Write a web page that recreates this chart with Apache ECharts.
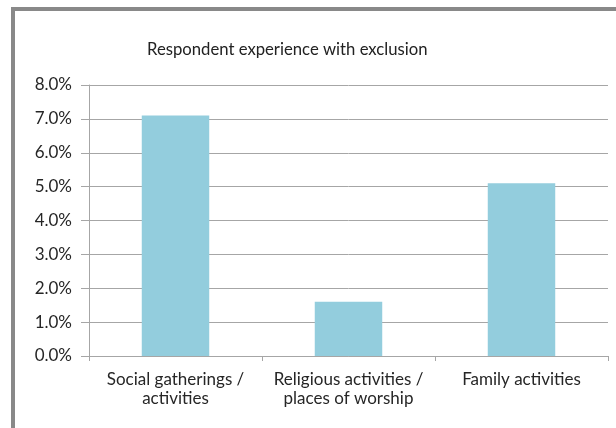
<!DOCTYPE html>
<html><head><meta charset="utf-8">
<script src="https://cdn.jsdelivr.net/npm/echarts@6/dist/echarts.min.js"></script>
<style>
html,body{margin:0;padding:0;background:#fff;}
#frame{position:absolute;left:11px;top:7px;width:605px;height:421px;border-left:4px solid #898989;border-top:4px solid #898989;box-sizing:border-box;}
#c{position:absolute;left:0;top:0;width:616px;height:428px;}
</style></head>
<body>
<div id="frame"></div>
<div id="c"></div>
<script>
const categories = ["Social gatherings /\nactivities", "Religious activities /\nplaces of worship", "Family activities"];
const values = [7.1, 1.6, 5.1];
const yTicks = [0, 1, 2, 3, 4, 5, 6, 7, 8];

const chart = echarts.init(document.getElementById('c'), null, {renderer:'canvas'});
chart.setOption({
  animation:false,
  title:{text:"Respondent experience with exclusion", left:142, top:36,
    textStyle:{fontFamily:'Lato', fontSize:16.7, fontWeight:'normal', color:'#222'}},
  grid:{left:89, right:8, top:85, bottom:72, containLabel:false},
  xAxis:{type:'category', data:categories,
    axisLine:{lineStyle:{color:'#a6a6a6', width:1}},
    axisTick:{show:true, length:5, alignWithLabel:false, lineStyle:{color:'#a6a6a6'}},
    axisLabel:{fontFamily:'Lato', fontSize:17, color:'#262626', margin:14, lineHeight:19, interval:0}},
  yAxis:{type:'value', min:yTicks[0], max:yTicks[yTicks.length-1], interval:1,
    axisLine:{show:true, lineStyle:{color:'#a6a6a6'}},
    axisTick:{show:true, length:8, lineStyle:{color:'#a6a6a6'}},
    splitLine:{lineStyle:{color:'#a6a6a6', width:1}},
    axisLabel:{fontFamily:'Lato', fontSize:17, color:'#262626', margin:17,
      formatter:v=>v.toFixed(1)+'%'}},
  series:[{type:'bar', data:values, barWidth:'39%', itemStyle:{color:'#93cddd'}}]
});
</script>
</body></html>
